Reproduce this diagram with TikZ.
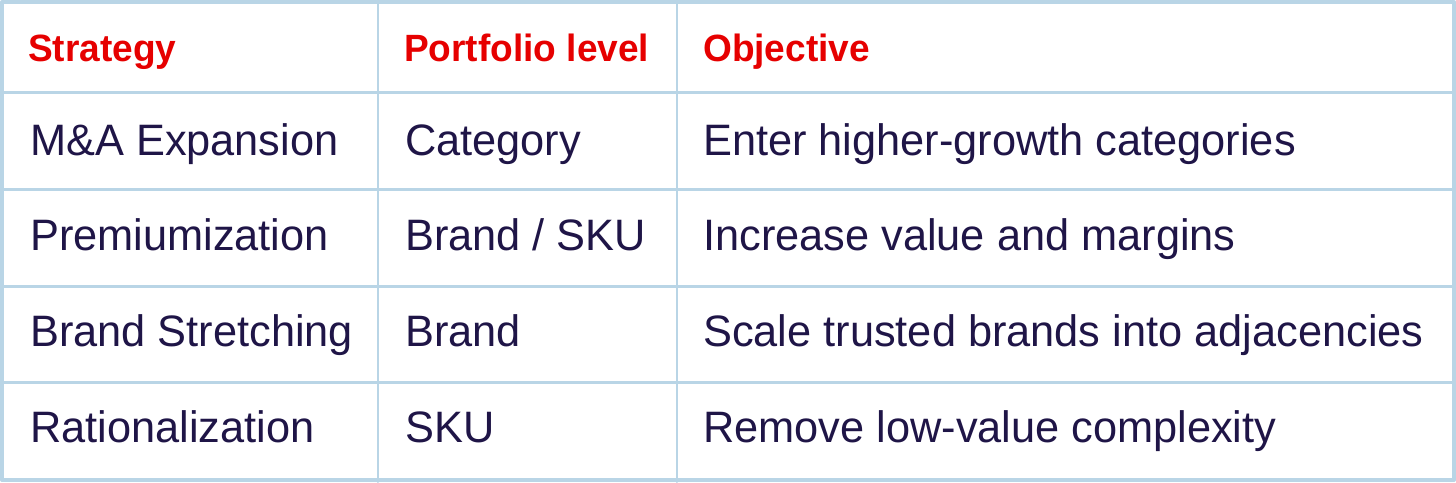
\documentclass[tikz,border=0pt]{standalone}
\usepackage{fontspec}
\setmainfont{Liberation Sans}[FakeStretch=0.985]
\newfontfamily\headfont{Liberation Sans}[FakeStretch=0.975]
\definecolor{gridblue}{HTML}{B9D5E6}
\definecolor{ink}{HTML}{1F1547}
\definecolor{headred}{HTML}{E60000}
\tikzset{
  cell/.style={anchor=base west,inner sep=0pt,text=ink,font=\fontsize{44}{52}\selectfont},
  headcell/.style={cell,text=headred,font=\headfont\bfseries\fontsize{38}{46}\selectfont}
}
\begin{document}
\begin{tikzpicture}[x=1pt,y=-1pt,line join=round,line cap=round]
  \useasboundingbox (0,0) rectangle (1456,482);
  \fill[white] (0,0) rectangle (1456,482);
  % grid
  \draw[gridblue,line width=3pt] (0,92)--(1456,92) (0,189)--(1456,189) (0,286)--(1456,286) (0,382)--(1456,382);
  \draw[gridblue,line width=2pt] (378,0)--(378,482) (677,0)--(677,482);
  \draw[gridblue,line width=4pt,line cap=butt] (2,2) rectangle (1454,480);
  % header
  \node[headcell] (h1) at (28,61) {Strategy};
  \node[headcell] (h2) at (404,61) {Portfolio level};
  \node[headcell] (h3) at (703,61) {Objective};
  % rows
  \node[cell] (s1) at (30,155) {M\&A Expansion};
  \node[cell] (p1) at (405,155) {Category};
  \node[cell] (o1) at (703,155) {Enter higher-growth categories};
  \node[cell] (s2) at (30,250) {Premiumization};
  \node[cell] (p2) at (405,250) {Brand / SKU};
  \node[cell] (o2) at (703,250) {Increase value and margins};
  \node[cell] (s3) at (30,346) {Brand Stretching};
  \node[cell] (p3) at (405,346) {Brand};
  \node[cell] (o3) at (703,346) {Scale trusted brands into adjacencies};
  \node[cell] (s4) at (30,442) {Rationalization};
  \node[cell] (p4) at (405,442) {SKU};
  \node[cell] (o4) at (703,442) {Remove low-value complexity};
\end{tikzpicture}
\end{document}
